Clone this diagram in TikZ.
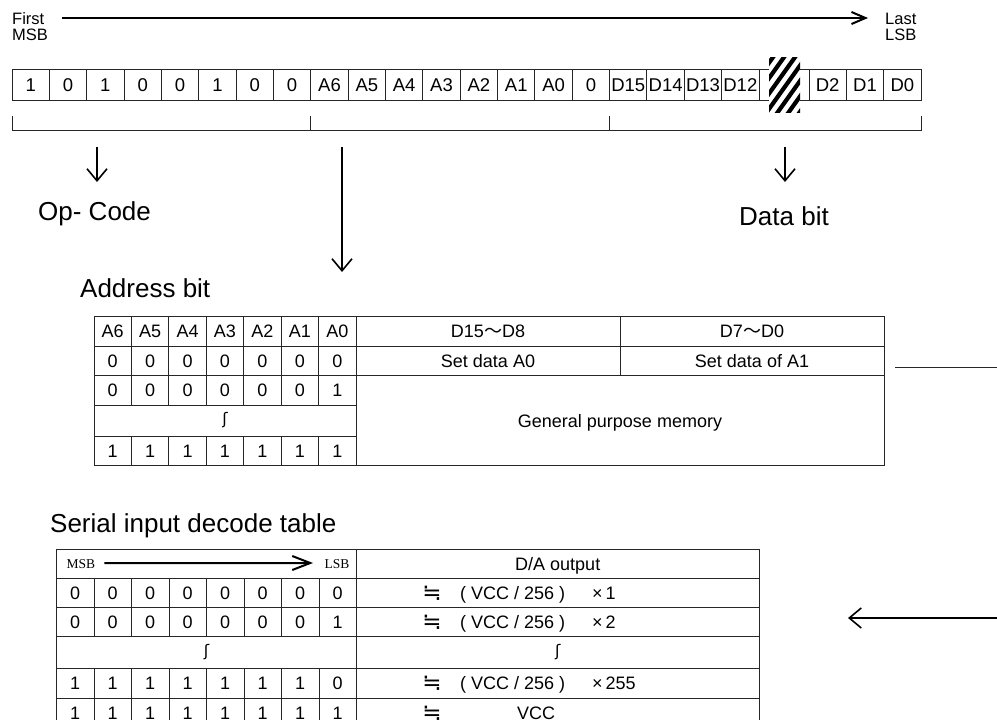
\documentclass[tikz,border=0pt]{standalone}
\usepackage{fontspec}
\setmainfont{Liberation Sans}
\newfontfamily\dvfont{DejaVu Sans}
\newfontfamily\cjkfont{Noto Sans CJK SC}
\newfontfamily\serfont{Liberation Serif}
\usetikzlibrary{arrows.meta}
\begin{document}
\begin{tikzpicture}[x=1pt,y=-1pt,
  tbl/.style={line width=1pt, draw=black!85},
  bit/.style={anchor=base, font=\fontsize{18.5}{20}\selectfont, inner sep=0pt},
  cel/.style={anchor=base, font=\fontsize{18}{20}\selectfont, inner sep=0pt},
  celw/.style={anchor=base west, font=\fontsize{18}{20}\selectfont, inner sep=0pt},
  esh/.style={anchor=center, font=\dvfont\fontsize{16}{18}\selectfont, inner sep=0pt},
  approx/.style={anchor=base, font=\dvfont\fontsize{23}{24}\selectfont, inner sep=0pt},
  lbl/.style={anchor=base west, font=\fontsize{26}{30}\selectfont, inner sep=0pt},
  sml/.style={anchor=base west, font=\fontsize{16.5}{18}\selectfont, inner sep=0pt},
  bigarr/.style={line width=1.6pt, -{Straight Barb[length=12pt,width=20pt]}},
  toparr/.style={line width=2pt, -{Straight Barb[length=14pt,width=12pt]}},
  hdrarr/.style={line width=2pt, -{Straight Barb[length=18pt,width=14pt]}}
]
\useasboundingbox (0,0) rectangle (997,720);
\fill[white] (0,0) rectangle (997,720);
\clip (0,0) rectangle (997,720);

% ---- top labels and arrow
\node[sml] (first) at (12,24) {First};
\node[sml] (msb) at (12,41) {MSB};
\node[sml] (last) at (885,24) {Last};
\node[sml] (lsb) at (885,41) {LSB};
\coordinate (ta1) at (62,18);
\coordinate (ta2) at (868,18);
\draw[toparr] (ta1) -- (ta2);

% ---- bit row
\foreach \t [count=\i from 0] in {1,0,1,0,0,1,0,0,A6,A5,A4,A3,A2,A1,A0,0,D15,D14,D13,D12}{
  \pgfmathsetmacro\xl{12+37.35*\i}
  \draw[tbl] (\xl,69) rectangle ++(37.35,31);
  \node[bit] (t\i) at (\xl+18.675,91.1) {\t};
}
\draw[tbl] (759,69) rectangle (809,100);
\foreach \t [count=\i from 0] in {D2,D1,D0}{
  \pgfmathsetmacro\xl{809+37.35*\i}
  \draw[tbl] (\xl,69) rectangle ++(37.35,31);
  \node[bit] (d\i) at (\xl+18.675,91.1) {\t};
}
% hatch
\fill[white] (769,57) rectangle (800,112);
\begin{scope}
  \clip (769,57) rectangle (800,112);
  \foreach \k in {0,...,8}{
    \draw[line width=4.2pt] (720+11*\k,116) -- (720+11*\k+45,53);
  }
\end{scope}

% ---- brackets
\coordinate (bl) at (12,116);
\coordinate (bl2) at (12,130);
\coordinate (br2) at (921,130);
\coordinate (br) at (921,116);
\draw[tbl] (bl) -- (bl2) -- (br2) -- (br);
\draw[tbl] (310.8,116) -- (310.8,130);
\draw[tbl] (609.6,116) -- (609.6,130);

% ---- arrows and labels
\coordinate (oa1) at (97,147); \coordinate (oa2) at (97,182);
\draw[bigarr] (oa1) -- (oa2);
\coordinate (aa1) at (342,147); \coordinate (aa2) at (342,272);
\draw[bigarr] (aa1) -- (aa2);
\coordinate (da1) at (785,147); \coordinate (da2) at (785,182);
\draw[bigarr] (da1) -- (da2);
\node[lbl] (opcode) at (38,220) {Op- Code};
\node[lbl] (databit) at (739,225) {Data bit};
\node[lbl] (addrbit) at (80,297) {Address bit};
\node[lbl] (serial) at (50,532) {Serial input decode table};

% ---- address table
\draw[tbl] (94,316) rectangle (884,465);
\foreach \y in {346,375} \draw[tbl] (94,\y) -- (884,\y);
\foreach \y in {405,436} \draw[tbl] (94,\y) -- (356,\y);
\draw[tbl] (356,316) -- (356,465);
\draw[tbl] (620,316) -- (620,375);
\foreach \k in {1,...,6}{
  \pgfmathsetmacro\xx{94+37.43*\k}
  \draw[tbl] (\xx,316) -- (\xx,405);
  \draw[tbl] (\xx,436) -- (\xx,465);
}
\foreach \t [count=\i from 0] in {A6,A5,A4,A3,A2,A1,A0}
  \node[cel] (ah\i) at (112.7+37.43*\i,337.5) {\t};
\foreach \t [count=\i from 0] in {0,0,0,0,0,0,0}
  \node[cel] (ar\i) at (112.7+37.43*\i,367) {\t};
\foreach \t [count=\i from 0] in {0,0,0,0,0,0,1}
  \node[cel] (as\i) at (112.7+37.43*\i,396.5) {\t};
\foreach \t [count=\i from 0] in {1,1,1,1,1,1,1}
  \node[cel] (au\i) at (112.7+37.43*\i,457) {\t};
\node[esh] (aesh) at (225,420.5) {ʃ};
\node[cel] (hd1) at (488,337.5) {D15{\cjkfont ～}D8};
\node[cel] (hd2) at (752,337.5) {D7{\cjkfont ～}D0};
\node[cel] (sd1) at (488,367) {Set data A0};
\node[cel] (sd2) at (752,367) {Set data of A1};
\node[cel] (gpm) at (620,427) {General purpose memory};
\coordinate (rl1) at (895,367); \coordinate (rl2) at (997,367);
\draw[tbl] (rl1) -- (rl2);

% ---- serial table
\draw[tbl] (56.5,549) rectangle (759,728);
\foreach \y in {578,607,636,668,698} \draw[tbl] (56.5,\y) -- (759,\y);
\draw[tbl] (356.5,549) -- (356.5,728);
\foreach \k in {1,...,7}{
  \pgfmathsetmacro\xx{56.5+37.5*\k}
  \draw[tbl] (\xx,578) -- (\xx,636);
  \draw[tbl] (\xx,668) -- (\xx,728);
}
\node[anchor=base, inner sep=0pt, font=\serfont\fontsize{13.5}{15}\selectfont] (smsb) at (81,568) {MSB};
\node[anchor=base, inner sep=0pt, font=\serfont\fontsize{13.5}{15}\selectfont] (slsb) at (337,568) {LSB};
\draw[hdrarr] (smsb.east) ++(9,-0.5) coordinate (ha1) -- (313,563) coordinate (ha2);
\node[cel] (dao) at (557.75,570) {D/A output};
\foreach \t [count=\i from 0] in {0,0,0,0,0,0,0,0}
  \node[cel] (s1\i) at (75.25+37.5*\i,599) {\t};
\foreach \t [count=\i from 0] in {0,0,0,0,0,0,0,1}
  \node[cel] (s2\i) at (75.25+37.5*\i,628) {\t};
\foreach \t [count=\i from 0] in {1,1,1,1,1,1,1,0}
  \node[cel] (s4\i) at (75.25+37.5*\i,689.5) {\t};
\foreach \t [count=\i from 0] in {1,1,1,1,1,1,1,1}
  \node[cel] (s5\i) at (75.25+37.5*\i,719.5) {\t};
\node[esh] (sesh1) at (206.5,652) {ʃ};
\node[esh] (sesh2) at (557.75,652) {ʃ};
\foreach \r/\yy/\m in {1/599/1,2/628/2,4/689.5/255}{
  \node[approx] (ap\r) at (432,\yy+1) {≒};
  \node[celw] (vc\r) at (460,\yy) {( VCC / 256 )};
  \node[celw] (mu\r) at (592,\yy) {×\,\m};
}
\node[approx] (ap5) at (432,720.5) {≒};
\node[celw] (vc5) at (517,719.5) {VCC};

\coordinate (la1) at (997,618); \coordinate (la2) at (848,618);
\draw[bigarr] (la1) -- (la2);
\end{tikzpicture}
\end{document}
